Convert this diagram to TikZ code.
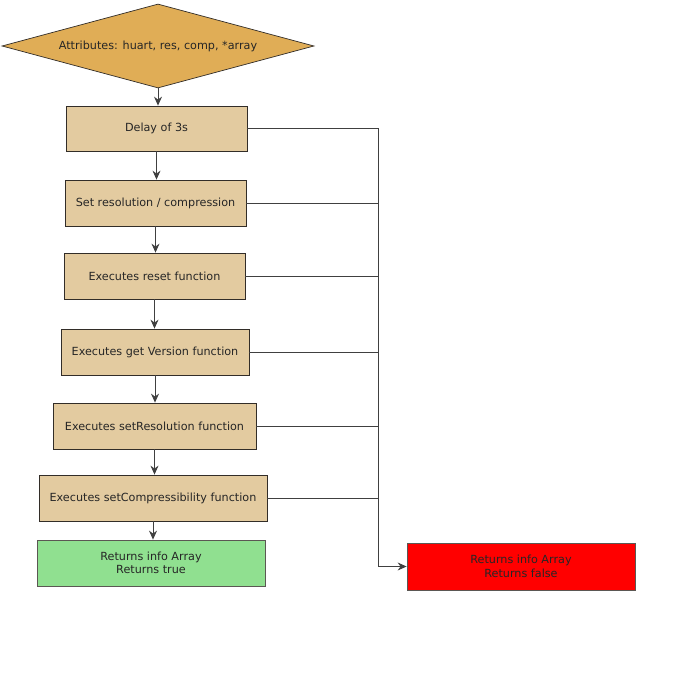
\documentclass[tikz,border=0pt]{standalone}
\usepackage{fontspec}
\setmainfont{DejaVu Sans}
\usetikzlibrary{shapes.geometric,arrows.meta}
\definecolor{diafill}{RGB}{224,173,86}
\definecolor{boxfill}{RGB}{227,203,160}
\definecolor{okfill}{RGB}{144,224,144}
\definecolor{edgec}{RGB}{50,45,40}
\begin{document}
\begin{tikzpicture}[x=1pt,y=-1pt,
  every node/.style={font=\fontsize{11.2}{13.5}\selectfont, text=black!85},
  stepbox/.style={draw=edgec, line width=0.8pt, fill=boxfill, rectangle, inner sep=0pt},
  conn/.style={draw=black!75, line width=0.8pt},
  arr/.style={conn, -{Stealth[length=9pt,width=8pt,inset=3pt]}}]
\useasboundingbox (0,0) rectangle (700,700);
\fill[white] (0,0) rectangle (700,700);
\node[diamond, aspect=3.714, draw=edgec, line width=0.7pt, fill=diafill, minimum width=312pt, minimum height=84pt, inner sep=0pt] (d) at (158,46) {Attributes: huart, res, comp, *array};
\node[stepbox, minimum width=181pt, minimum height=45pt] (b1) at (156.5,128.5) {Delay of 3s};
\node[stepbox, minimum width=181pt, minimum height=46pt] (b2) at (155.5,203) {Set resolution / compression};
\node[stepbox, minimum width=181pt, minimum height=46pt] (b3) at (154.5,276) {Executes reset function};
\node[stepbox, minimum width=188pt, minimum height=46pt] (b4) at (155,352) {Executes get Version function};
\node[stepbox, minimum width=203pt, minimum height=46pt] (b5) at (154.5,426) {Executes setResolution function};
\node[stepbox, minimum width=228pt, minimum height=46pt] (b6) at (153,498) {Executes setCompressibility function};
\node[stepbox, fill=okfill, draw=edgec!80, minimum width=228pt, minimum height=46pt, align=center] (ok) at (151,563) {Returns info Array\\Returns true};
\node[stepbox, fill=red, draw=edgec!80, minimum width=228pt, minimum height=47pt, align=center] (bad) at (521,566.5) {Returns info Array\\Returns false};
\coordinate (top) at (378,128.5);
\coordinate (bend) at (378,566.5);
\draw[arr] (d.south) -- (d.south |- b1.north);
\draw[arr] (b1.south) -- (b1.south |- b2.north);
\draw[arr] (b2.south) -- (b2.south |- b3.north);
\draw[arr] (b3.south) -- (b3.south |- b4.north);
\draw[arr] (b4.south) -- (b4.south |- b5.north);
\draw[arr] (b5.south) -- (b5.south |- b6.north);
\draw[arr] (b6.south) -- (b6.south |- ok.north);
\draw[conn] (b1.east) -- (top);
\draw[conn] (b2.east) -- (top |- b2.east);
\draw[conn] (b3.east) -- (top |- b3.east);
\draw[conn] (b4.east) -- (top |- b4.east);
\draw[conn] (b5.east) -- (top |- b5.east);
\draw[conn] (b6.east) -- (top |- b6.east);
\draw[arr] (top) -- (bend) -- (bad.west);
\end{tikzpicture}
\end{document}
